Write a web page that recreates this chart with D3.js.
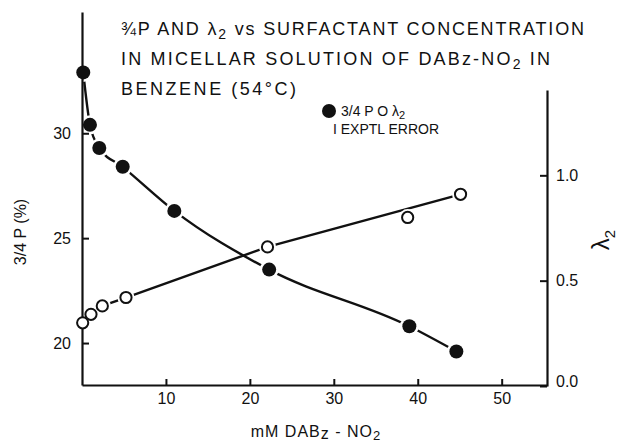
<!DOCTYPE html>
<html>
<head>
<meta charset="utf-8">
<script src="https://cdn.jsdelivr.net/npm/d3@7"></script>
<style>
  body { margin: 0; background: #fff; }
  svg text { font-family: "Liberation Sans", "DejaVu Sans", sans-serif; fill: #111; }
</style>
</head>
<body>
<div class="chart"></div>
<script>
// 3/4 P and lambda2 vs surfactant concentration

// DATA
var pConc   = [0.15, 0.95, 2.06, 4.85, 11.0, 22.3, 39.0, 44.6];
var pValues = [32.9, 30.4, 29.3, 28.4, 26.3, 23.5, 20.8, 19.6];

var lConc   = [0.08, 1.07, 2.42, 5.24, 22.1, 38.8, 45.1];
var lValues = [0.30, 0.34, 0.38, 0.42, 0.66, 0.80, 0.91];

// the straight-ish line drawn through the open circles skips the 38.8 point
var lFitConc   = [0.08, 1.07, 2.42, 5.24, 22.1, 45.1];
var lFitValues = [0.30, 0.34, 0.38, 0.42, 0.66, 0.91];

var xTicks = [10, 20, 30, 40, 50];
var pTicks = [20, 25, 30];
var lTicks = [0, 0.5, 1.0];

var titleLines = [
  ['¾P AND λ', '2', ' vs SURFACTANT  CONCENTRATION'],
  ['IN  MICELLAR  SOLUTION  OF  DABz-NO', '2', '  IN'],
  ['BENZENE   (54°C)', '', '']
];

// SCALES
var x  = d3.scaleLinear().domain([0, 55.4]).range([82, 547]);
var yP = d3.scaleLinear().domain([18, 35.78]).range([385, 12]);
var yL = d3.scaleLinear().domain([0, 1.405]).range([386, 90]);

var svg = d3.select('.chart')
  .append('svg')
  .attr('width', 620)
  .attr('height', 444);

var pts = function(xs, ys){
  return xs.map(function(d, i){ return {x: d, y: ys[i]}; });
};

// LINES
var pLine = d3.line()
  .x(function(d){ return x(d.x); })
  .y(function(d){ return yP(d.y); })
  .curve(d3.curveMonotoneX);

var lLine = d3.line()
  .x(function(d){ return x(d.x); })
  .y(function(d){ return yL(d.y); });

svg.append('path')
  .datum(pts(pConc, pValues))
  .attr('d', pLine)
  .attr('fill', 'none')
  .attr('stroke', '#111')
  .attr('stroke-width', 2.4);

svg.append('path')
  .datum(pts(lFitConc, lFitValues))
  .attr('d', lLine)
  .attr('fill', 'none')
  .attr('stroke', '#111')
  .attr('stroke-width', 2.4);

// white halos so the lines stop short of the markers
svg.selectAll('.haloP')
  .data(pts(pConc, pValues))
  .enter()
  .append('circle')
  .attr('cx', function(d){ return x(d.x); })
  .attr('cy', function(d){ return yP(d.y); })
  .attr('r', 9.5)
  .style('fill', '#fff');

svg.selectAll('.haloL')
  .data(pts(lConc, lValues))
  .enter()
  .append('circle')
  .attr('cx', function(d){ return x(d.x); })
  .attr('cy', function(d){ return yL(d.y); })
  .attr('r', 8.5)
  .style('fill', '#fff');

// AXES
var styleAxis = function(g, size){
  g.select('.domain').attr('stroke', '#111').attr('stroke-width', 2.2);
  g.selectAll('.tick line').attr('stroke', '#111').attr('stroke-width', 2);
  g.selectAll('.tick text')
    .style('font-size', size + 'px')
    .style('font-family', '"Liberation Sans", "DejaVu Sans", sans-serif')
    .attr('fill', '#111');
};

var xAxis = svg.append('g')
  .attr('transform', 'translate(0,385)')
  .call(d3.axisBottom(x).tickValues(xTicks).tickSize(-6).tickSizeOuter(0).tickPadding(8));
styleAxis(xAxis, 16);

var pAxis = svg.append('g')
  .attr('transform', 'translate(82,0)')
  .call(d3.axisLeft(yP).tickValues(pTicks).tickSize(-7).tickSizeOuter(0).tickPadding(11));
styleAxis(pAxis, 16);

var lAxis = svg.append('g')
  .attr('transform', 'translate(547,0)')
  .call(d3.axisRight(yL).tickValues(lTicks).tickSize(-7).tickSizeOuter(0).tickPadding(9)
    .tickFormat(d3.format('.1f')));
styleAxis(lAxis, 16);
lAxis.selectAll('.tick text').attr('dy', function(d){ return d === 0 ? '0' : '0.32em'; });

// MARKERS
svg.selectAll('.ptP')
  .data(pts(pConc, pValues))
  .enter()
  .append('circle')
  .attr('cx', function(d){ return x(d.x); })
  .attr('cy', function(d){ return yP(d.y); })
  .attr('r', 7)
  .style('fill', '#111');

svg.selectAll('.ptL')
  .data(pts(lConc, lValues))
  .enter()
  .append('circle')
  .attr('cx', function(d){ return x(d.x); })
  .attr('cy', function(d){ return yL(d.y); })
  .attr('r', 5.6)
  .style('fill', '#fff')
  .style('stroke', '#111')
  .style('stroke-width', 2);

// AXIS TITLES
svg.append('text')
  .attr('transform', 'translate(26,232) rotate(-90)')
  .attr('text-anchor', 'middle')
  .style('font-size', '16px')
  .text('3/4 P (%)');

var lt = svg.append('text')
  .attr('transform', 'translate(609,240) rotate(-90)')
  .attr('text-anchor', 'middle')
  .style('font-size', '24px');
lt.append('tspan').text('λ');
lt.append('tspan').attr('dy', 6).style('font-size', '15px').text('2');

var xt = svg.append('text')
  .attr('x', 316)
  .attr('y', 437)
  .attr('text-anchor', 'middle')
  .style('font-size', '16px')
  .style('letter-spacing', '1px');
xt.append('tspan').text('mM  DAB');
xt.append('tspan').attr('dy', 2).text('z');
xt.append('tspan').attr('dy', -2).text(' - NO');
xt.append('tspan').attr('dy', 3).style('font-size', '13px').text('2');

// TITLE
var titleY = [35, 65, 95];
var titleW = [463, 429, 175];
titleLines.forEach(function(parts, i){
  var t = svg.append('text')
    .attr('x', 121)
    .attr('y', titleY[i])
    .attr('textLength', titleW[i])
    .attr('lengthAdjust', 'spacing')
    .style('font-size', '18px');
  t.append('tspan').text(parts[0]);
  if (parts[1]) {
    t.append('tspan').attr('dy', 4).style('font-size', '14px').text(parts[1]);
    t.append('tspan').attr('dy', -4).text(parts[2]);
  }
});

// LEGEND
svg.append('circle')
  .attr('cx', 329)
  .attr('cy', 111)
  .attr('r', 7)
  .style('fill', '#111');

var lg = svg.append('text')
  .attr('x', 341)
  .attr('y', 116)
  .style('font-size', '14px');
lg.append('tspan').text('3/4 P  O  λ');
lg.append('tspan').attr('dy', 3).style('font-size', '11px').text('2');

svg.append('text')
  .attr('x', 333)
  .attr('y', 134)
  .style('font-size', '14px')
  .text('I  EXPTL  ERROR');
</script>
</body>
</html>
